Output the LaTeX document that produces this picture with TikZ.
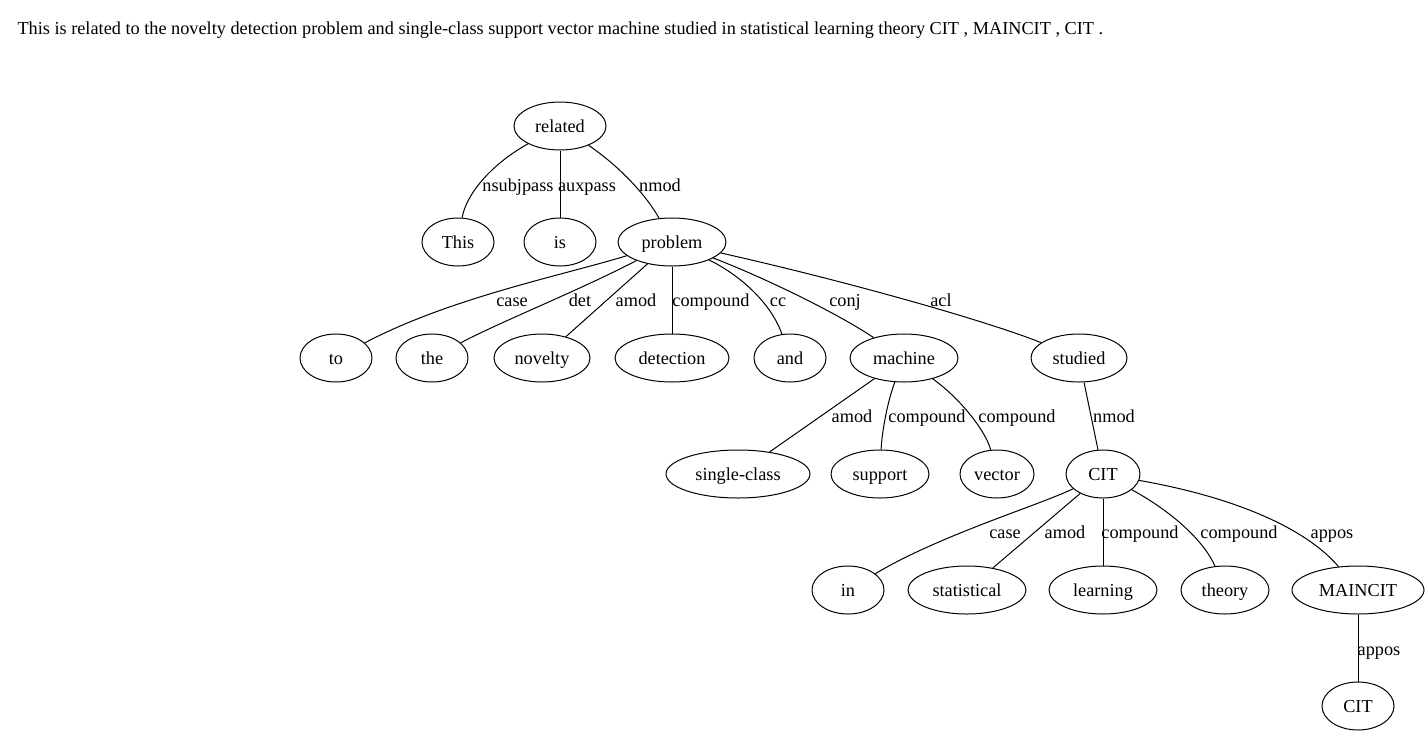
\documentclass[tikz,border=0pt]{standalone}
\usepackage{fontspec}
\setmainfont{Liberation Serif}
\usetikzlibrary{shapes.geometric}

\tikzset{
  word/.style={ellipse, draw, inner sep=0pt, text height=11pt, text depth=1.5pt, minimum height=36pt, minimum width=#1*0.75pt},
  lbl/.style={inner sep=0pt, text height=11pt, text depth=1.5pt},
}

\begin{document}
\begin{tikzpicture}[x=0.75pt,y=-0.75pt,font=\fontsize{13.7pt}{16pt}\selectfont,line width=0.75pt]
  \useasboundingbox (0,0) rectangle (1428,736);
  \node[anchor=west,lbl] (sentence) at (17,28) {This is related to the novelty detection problem and single-class support vector machine studied in statistical learning theory CIT , MAINCIT , CIT .};
  % words
  \node[word=92] (related) at (560,126) {related};
  \node[word=72] (This) at (458,242) {This};
  \node[word=72] (is) at (560,242) {is};
  \node[word=108] (problem) at (672,242) {problem};
  \node[word=72] (to) at (336,358) {to};
  \node[word=72] (the) at (432,358) {the};
  \node[word=96] (novelty) at (542,358) {novelty};
  \node[word=114] (detection) at (672,358) {detection};
  \node[word=72] (and) at (790,358) {and};
  \node[word=108] (machine) at (904,358) {machine};
  \node[word=96] (studied) at (1079,358) {studied};
  \node[word=144] (singleclass) at (738,474) {single-class};
  \node[word=98] (support) at (880,474) {support};
  \node[word=74] (vector) at (997,474) {vector};
  \node[word=74] (cit) at (1103,474) {CIT};
  \node[word=72] (in) at (848,590) {in};
  \node[word=118] (statistical) at (967,590) {statistical};
  \node[word=108] (learning) at (1103,590) {learning};
  \node[word=88] (theory) at (1225,590) {theory};
  \node[word=132] (maincit) at (1358,590) {MAINCIT};
  \node[word=72] (cit2) at (1358,706) {CIT};
  % dependencies
  \draw (related) .. controls (490,165) and (466,195) .. (This) node[lbl] at (518,185) {nsubjpass};
  \draw (related) -- (is) node[lbl] at (587,185) {auxpass};
  \draw (related) .. controls (622,168) and (648,198) .. (problem) node[lbl] at (660,185) {nmod};
  \draw (problem) .. controls (560,276) and (450,298) .. (to) node[lbl] at (512,300) {case};
  \draw (problem) .. controls (580,290) and (500,322) .. (the) node[lbl] at (580,300) {det};
  \draw (problem) -- (novelty) node[lbl] at (636,300) {amod};
  \draw (problem) -- (detection) node[lbl] at (711,300) {compound};
  \draw (problem) .. controls (742,276) and (772,305) .. (and) node[lbl] at (778,300) {cc};
  \draw (problem) .. controls (770,280) and (840,315) .. (machine) node[lbl] at (845,300) {conj};
  \draw (problem) .. controls (850,282) and (990,322) .. (studied) node[lbl] at (941,300) {acl};
  \draw (machine) -- (singleclass) node[lbl] at (852,416) {amod};
  \draw (machine) .. controls (888,400) and (882,430) .. (support) node[lbl] at (927,416) {compound};
  \draw (machine) .. controls (962,400) and (986,432) .. (vector) node[lbl] at (1017,416) {compound};
  \draw (studied) -- (cit) node[lbl] at (1114,416) {nmod};
  \draw (cit) .. controls (1040,505) and (940,535) .. (in) node[lbl] at (1005,532) {case};
  \draw (cit) -- (statistical) node[lbl] at (1065,532) {amod};
  \draw (cit) -- (learning) node[lbl] at (1140,532) {compound};
  \draw (cit) .. controls (1178,515) and (1206,545) .. (theory) node[lbl] at (1239,532) {compound};
  \draw (cit) .. controls (1250,500) and (1312,535) .. (maincit) node[lbl] at (1332,532) {appos};
  \draw (maincit) -- (cit2) node[lbl] at (1379,649) {appos};
\end{tikzpicture}
\end{document}
